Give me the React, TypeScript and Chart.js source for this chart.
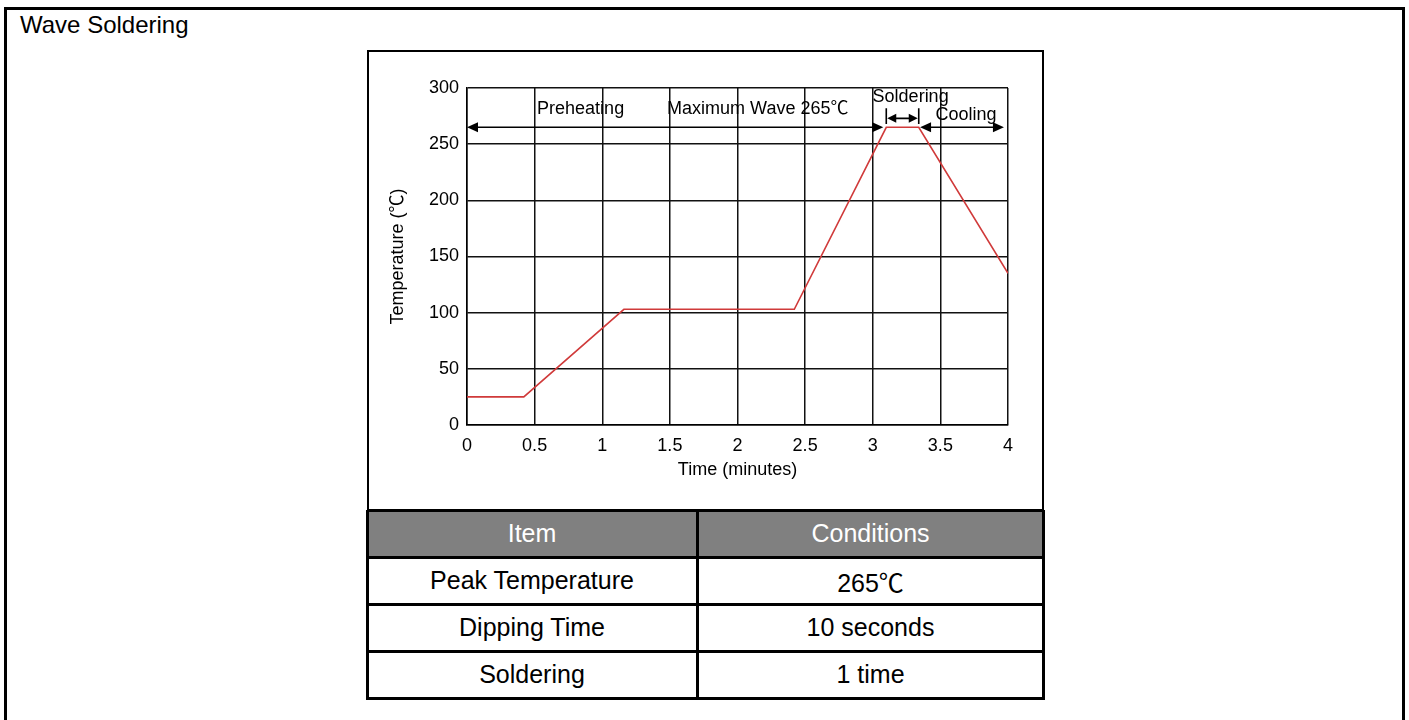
import React, { useEffect, useRef } from "react";
import { Chart, registerables } from "chart.js";

Chart.register(...registerables);

// ---- data ----
const timeMinutes = [0, 0.42, 1.16, 2.42, 3.1, 3.34, 4.0];
const temperatureC = [25, 25, 103, 103, 265, 265, 135];

const xTickMin = 0;
const xTickMax = 4;
const xTickStep = 0.5;
const yTickMin = 0;
const yTickMax = 300;
const yTickStep = 50;

const titleText = "Wave Soldering";
const xAxisTitle = "Time (minutes)";
const yAxisTitle = "Temperature (℃)";

// phase annotations (in data units)
const phaseLabels = ["Preheating", "Maximum Wave 265℃", "Soldering", "Cooling"];
const phaseLabelX = [0.84, 2.15, 3.28, 3.69];
const phaseLabelY = [281, 281, 292, 276];

// arrows: [x start, x end, temperature level]
const preheatArrow = [0, 3.1, 265];
const solderArrow = [3.1, 3.34, 273];
const coolingArrow = [3.35, 3.97, 265];

const tableHeader = ["Item", "Conditions"];
const tableItems = ["Peak Temperature", "Dipping Time", "Soldering"];
const tableConditions = ["265℃", "10 seconds", "1 time"];

const FONT = "'Liberation Sans', Arial, 'Noto Sans CJK SC', sans-serif";

function drawHead(ctx: CanvasRenderingContext2D, x: number, y: number, dir: number, len: number, half: number) {
  ctx.beginPath();
  ctx.moveTo(x, y);
  ctx.lineTo(x - dir * len, y - half);
  ctx.lineTo(x - dir * len, y + half);
  ctx.closePath();
  ctx.fill();
}

const annotationPlugin = {
  id: "phaseAnnotations",
  afterDatasetsDraw(chart: any) {
    const ctx: CanvasRenderingContext2D = chart.ctx;
    const xs = chart.scales.x;
    const ys = chart.scales.y;
    ctx.save();
    ctx.fillStyle = "#000";
    ctx.strokeStyle = "#000";
    ctx.lineWidth = 1.6;

    // main preheating arrow (double)
    {
      const x1 = xs.getPixelForValue(preheatArrow[0]);
      const x2 = xs.getPixelForValue(preheatArrow[1]);
      const y = ys.getPixelForValue(preheatArrow[2]);
      ctx.beginPath();
      ctx.moveTo(x1 + 8, y);
      ctx.lineTo(x2 - 8, y);
      ctx.stroke();
      drawHead(ctx, x1, y, -1, 11, 5);
      drawHead(ctx, x2 - 3, y, 1, 11, 5);
    }
    // soldering dimension arrow
    {
      const x1 = xs.getPixelForValue(solderArrow[0]);
      const x2 = xs.getPixelForValue(solderArrow[1]);
      const y = ys.getPixelForValue(solderArrow[2]);
      const yt = ys.getPixelForValue(solderArrow[2] + 9);
      const yb = ys.getPixelForValue(solderArrow[2] - 5);
      ctx.beginPath();
      ctx.moveTo(x1, yt);
      ctx.lineTo(x1, yb);
      ctx.moveTo(x2, yt);
      ctx.lineTo(x2, yb);
      ctx.moveTo(x1 + 6, y);
      ctx.lineTo(x2 - 6, y);
      ctx.stroke();
      drawHead(ctx, x1 + 1, y, -1, 9, 4.5);
      drawHead(ctx, x2 - 1, y, 1, 9, 4.5);
    }
    // cooling arrow
    {
      const x1 = xs.getPixelForValue(coolingArrow[0]);
      const x2 = xs.getPixelForValue(coolingArrow[1]);
      const y = ys.getPixelForValue(coolingArrow[2]);
      ctx.beginPath();
      ctx.moveTo(x1 + 8, y);
      ctx.lineTo(x2 - 8, y);
      ctx.stroke();
      drawHead(ctx, x1, y, -1, 11, 5);
      drawHead(ctx, x2, y, 1, 11, 5);
    }

    ctx.font = `18px ${FONT}`;
    ctx.textAlign = "center";
    ctx.textBaseline = "middle";
    for (let i = 0; i < phaseLabels.length; i++) {
      ctx.fillText(phaseLabels[i], xs.getPixelForValue(phaseLabelX[i]), ys.getPixelForValue(phaseLabelY[i]));
    }
    ctx.restore();
  },
};

function ProfileChart() {
  const ref = useRef<HTMLCanvasElement | null>(null);
  useEffect(() => {
    if (!ref.current) return;
    const chart = new Chart(ref.current, {
      type: "scatter",
      data: {
        datasets: [
          {
            data: timeMinutes.map((t, i) => ({ x: t, y: temperatureC[i] })),
            showLine: true,
            borderColor: "#d03a3a",
            borderWidth: 1.6,
            pointRadius: 0,
            pointHoverRadius: 0,
            tension: 0,
          },
        ],
      },
      options: {
        animation: false,
        responsive: false,
        maintainAspectRatio: false,
        layout: { padding: { left: 0, right: 33, top: 36, bottom: 0 } },
        plugins: { legend: { display: false }, tooltip: { enabled: false } },
        scales: {
          x: {
            type: "linear",
            min: xTickMin,
            max: xTickMax,
            ticks: {
              stepSize: xTickStep,
              color: "#000",
              padding: 10,
              maxRotation: 0,
              font: { family: FONT, size: 18 },
              callback: (v: any) => String(Number(v)),
            },
            grid: { color: "#111", lineWidth: 1.5, drawTicks: false },
            border: { display: true, color: "#000", width: 1.5 },
            title: {
              display: true,
              text: xAxisTitle,
              color: "#000",
              font: { family: FONT, size: 18 },
              padding: { top: 0, bottom: 27 },
            },
            afterFit(scale: any) {
              scale.height = 83;
            },
          },
          y: {
            type: "linear",
            min: yTickMin,
            max: yTickMax,
            ticks: {
              stepSize: yTickStep,
              color: "#000",
              padding: 8,
              font: { family: FONT, size: 18 },
            },
            grid: { color: "#111", lineWidth: 1.5, drawTicks: false },
            border: { display: true, color: "#000", width: 1.5 },
            title: {
              display: true,
              text: yAxisTitle,
              color: "#000",
              font: { family: FONT, size: 18 },
              padding: { top: 18, bottom: 0 },
            },
            afterFit(scale: any) {
              scale.width = 98;
            },
          },
        },
      },
      plugins: [annotationPlugin],
    } as any);
    return () => chart.destroy();
  }, []);
  return (
    <canvas
      ref={ref}
      width={672}
      height={456}
      style={{ position: "absolute", left: 369, top: 52, width: 672, height: 456 }}
    />
  );
}

export default function App() {
  const rowH = 47;
  const cell = (text: string, left: number, top: number, width: number, header: boolean) => (
    <div
      key={`${text}-${left}-${top}`}
      style={{
        position: "absolute",
        left,
        top,
        width,
        height: rowH,
        display: "flex",
        alignItems: "center",
        justifyContent: "center",
        fontFamily: FONT,
        fontSize: 25,
        color: header ? "#fff" : "#000",
        background: header ? "#808080" : "#fff",
      }}
    >
      {text}
    </div>
  );
  const tLeft = 367;
  const tTop = 510;
  const col1W = 330;
  const col2W = 677 - 330;
  const items: any[] = [];
  items.push(cell(tableHeader[0], tLeft, tTop, col1W, true));
  items.push(cell(tableHeader[1], tLeft + col1W, tTop, col2W, true));
  tableItems.forEach((it, i) => {
    items.push(cell(it, tLeft, tTop + rowH * (i + 1), col1W, false));
    items.push(cell(tableConditions[i], tLeft + col1W, tTop + rowH * (i + 1), col2W, false));
  });
  const hLines = [0, 1, 2, 3, 4].map((i) => (
    <div
      key={"h" + i}
      style={{ position: "absolute", left: tLeft, top: tTop + rowH * i - 1.5, width: 677, height: 3, background: "#000" }}
    />
  ));
  return (
    <div style={{ position: "absolute", left: 0, top: 0, width: 1409, height: 720, overflow: "hidden", background: "#fff" }}>
      <div
        style={{
          position: "absolute",
          left: 4,
          top: 7,
          width: 1401,
          height: 800,
          border: "3px solid #000",
          boxSizing: "border-box",
        }}
      />
      <div style={{ position: "absolute", left: 20, top: 11, fontFamily: FONT, fontSize: 24, color: "#000", lineHeight: "28px" }}>
        {titleText}
      </div>
      <div
        style={{
          position: "absolute",
          left: 367,
          top: 50,
          width: 677,
          height: 648,
          border: "2px solid #000",
          boxSizing: "border-box",
        }}
      />
      <ProfileChart />
      {items}
      {hLines}
      <div style={{ position: "absolute", left: tLeft + col1W - 1.5, top: tTop, width: 3, height: rowH * 4, background: "#000" }} />
      <div style={{ position: "absolute", left: tLeft - 1, top: tTop, width: 3, height: rowH * 4 + 1.5, background: "#000" }} />
      <div style={{ position: "absolute", left: tLeft + 677 - 2, top: tTop, width: 3, height: rowH * 4 + 1.5, background: "#000" }} />
    </div>
  );
}
